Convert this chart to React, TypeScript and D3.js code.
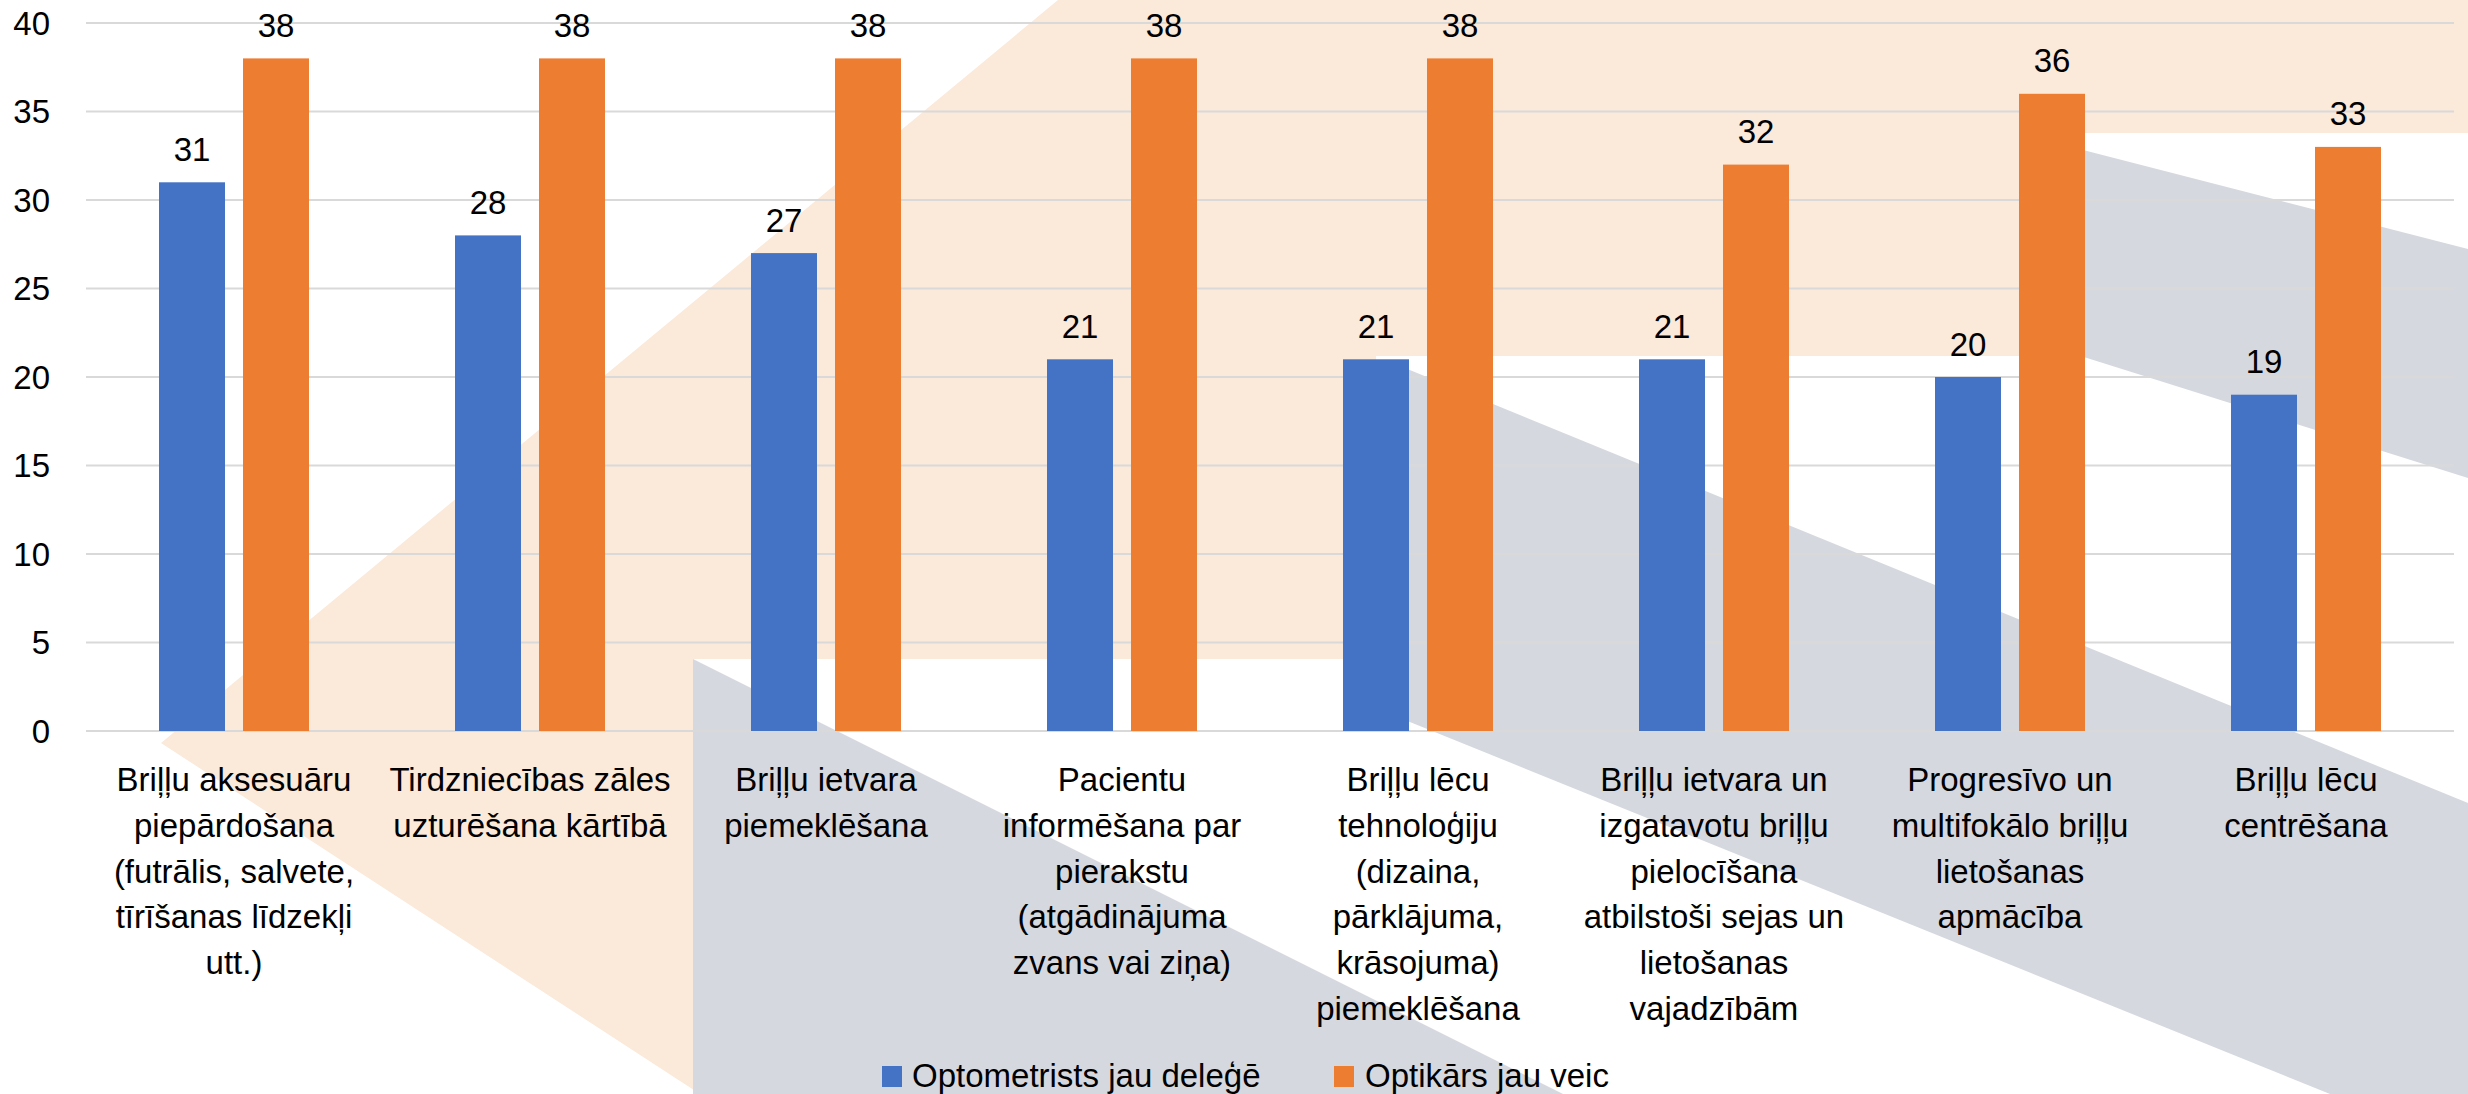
import React from 'react';
import * as d3 from 'd3';

// categories (already split into the wrapped lines the original shows)
const categoryLines: string[][] = [
  ['Briļļu aksesuāru', 'piepārdošana', '(futrālis, salvete,', 'tīrīšanas līdzekļi', 'utt.)'],
  ['Tirdzniecības zāles', 'uzturēšana kārtībā'],
  ['Briļļu ietvara', 'piemeklēšana'],
  ['Pacientu', 'informēšana par', 'pierakstu', '(atgādinājuma', 'zvans vai ziņa)'],
  ['Briļļu lēcu', 'tehnoloģiju', '(dizaina,', 'pārklājuma,', 'krāsojuma)', 'piemeklēšana'],
  ['Briļļu ietvara un', 'izgatavotu briļļu', 'pielocīšana', 'atbilstoši sejas un', 'lietošanas', 'vajadzībām'],
  ['Progresīvo un', 'multifokālo briļļu', 'lietošanas', 'apmācība'],
  ['Briļļu lēcu', 'centrēšana'],
];
const categories = categoryLines.map(l => l.join(' '));

const seriesNames = ['Optometrists jau deleģē', 'Optikārs jau veic'];
const delegated = [31, 28, 27, 21, 21, 21, 20, 19];
const alreadyDoes = [38, 38, 38, 38, 38, 32, 36, 33];
const yTicks = [0, 5, 10, 15, 20, 25, 30, 35, 40];

const colors = ['#4472C4', '#ED7D31'];

// decorative slide background behind the plot
const peach = '#FBE9DA';
const grey = '#D6D8DF';
const backdrop = [
  { fill: peach, pts: [[1058, 0], [2468, 0], [2468, 133], [2052, 133], [2052, 356], [1376, 356], [1376, 659], [693, 659], [693, 1094], [700, 1094], [161, 743]] },
  { fill: grey, pts: [[693, 659], [1563, 1094], [693, 1094]] },
  { fill: grey, pts: [[1400, 366], [2468, 803], [2468, 1094], [2330, 1094], [1400, 718]] },
  { fill: grey, pts: [[2052, 142], [2468, 249], [2468, 478], [2052, 347]] },
];

const W = 2468, H = 1094;
const font = '"Liberation Sans", Arial, sans-serif';
const fs = 33;

function App() {
  const x = d3.scaleBand().domain(categories).range([86, 2454]).padding(0);
  const xSub = d3.scaleBand().domain(seriesNames).range([0, x.bandwidth()])
    .paddingInner(0.2143).paddingOuter(0.869);
  const y = d3.scaleLinear().domain([0, 40]).range([731, 23]);

  const rows = categories.map((c, i) => ({ name: c, values: [delegated[i], alreadyDoes[i]] }));
  const pointsStr = (p: number[][]) => p.map(q => q.join(',')).join(' ');

  const legendItems = [
    { name: seriesNames[0], sx: 882, tx: 912 },
    { name: seriesNames[1], sx: 1334, tx: 1365 },
  ];

  return (
    <svg width={W} height={H} style={{ position: 'absolute', left: 0, top: 0, display: 'block', background: '#fff' }}
      fontFamily={font}>
      <rect x={0} y={0} width={W} height={H} fill="#fff" />
      {backdrop.map((b, i) => (
        <polygon key={i} points={pointsStr(b.pts)} fill={b.fill} />
      ))}

      {/* gridlines */}
      {yTicks.map(t => (
        <line key={t} x1={86} x2={2454} y1={y(t)} y2={y(t)} stroke="#D9D9D9" strokeWidth={2} />
      ))}
      {yTicks.map(t => (
        <text key={'t' + t} x={50} y={y(t)} dy="0.35em" textAnchor="end" fontSize={fs} fill="#000">{t}</text>
      ))}

      {/* bars */}
      {rows.map(r => (
        <g key={r.name} transform={`translate(${x(r.name)},0)`}>
          {r.values.map((v, j) => {
            const bx = xSub(seriesNames[j]) as number;
            return (
              <g key={j}>
                <rect x={bx} y={y(v)} width={xSub.bandwidth()} height={y(0) - y(v)} fill={colors[j]} />
                <text x={bx + xSub.bandwidth() / 2} y={y(v) - 21.5} textAnchor="middle" fontSize={fs} fill="#000">{v}</text>
              </g>
            );
          })}
        </g>
      ))}

      {/* category labels */}
      {categoryLines.map((lines, i) => (
        <text key={i} textAnchor="middle" fontSize={fs} fill="#000">
          {lines.map((l, k) => (
            <tspan key={k} x={(x(categories[i]) as number) + x.bandwidth() / 2} y={791 + k * 45.8}>{l}</tspan>
          ))}
        </text>
      ))}

      {/* legend */}
      {legendItems.map((d, i) => (
        <g key={d.name}>
          <rect x={d.sx} y={1066} width={20} height={21} fill={colors[i]} />
          <text x={d.tx} y={1087} fontSize={fs} fill="#000">{d.name}</text>
        </g>
      ))}
    </svg>
  );
}

export default App;
